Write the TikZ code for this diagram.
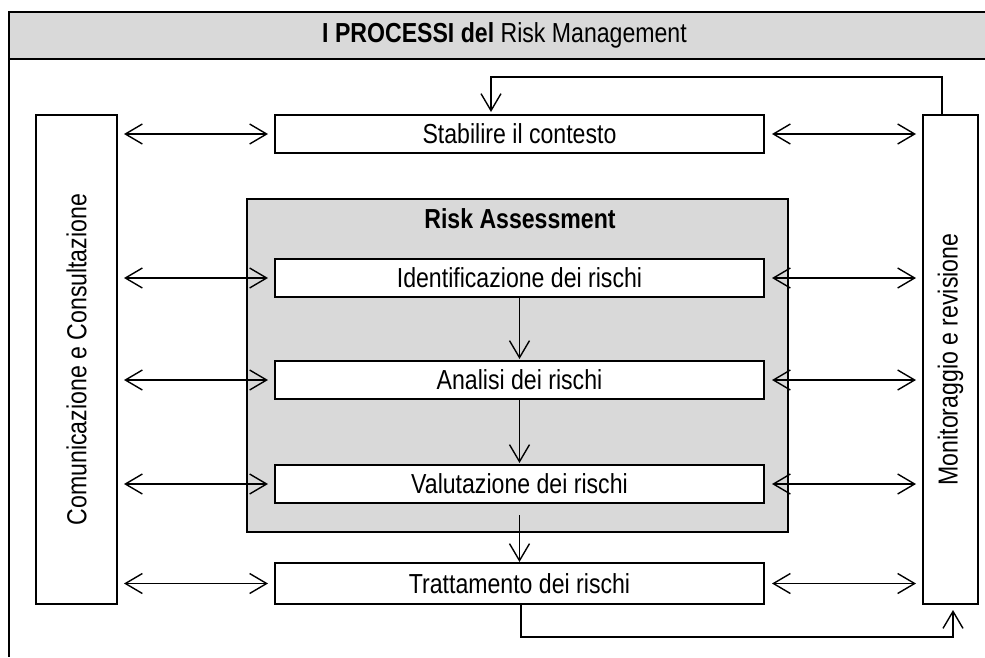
\documentclass[tikz,border=0pt]{standalone}
\usepackage{fontspec}
\setmainfont{Liberation Sans}[FakeStretch=0.84]
\usetikzlibrary{arrows.meta}
\definecolor{panelgray}{RGB}{217,217,217}
\tikzset{
  txt/.style={font=\fontsize{27.5}{29}\selectfont},
  box/.style={draw=black, line width=2pt, fill=white, inner sep=0pt, outer sep=0pt,
    minimum width=489pt, minimum height=38pt, txt},
  sidebox/.style={draw=black, line width=1.2pt, fill=white, inner sep=0pt, outer sep=0pt,
    minimum height=489pt},
  arr/.style={line width=1.4pt, -{Straight Barb[length=17pt,width=20pt,line width=1.4pt]}},
  darr/.style={line width=1.4pt, {Straight Barb[length=17pt,width=20pt,line width=1.4pt]}-{Straight Barb[length=17pt,width=20pt,line width=1.4pt]}},
}
\begin{document}
\begin{tikzpicture}[x=1pt,y=-1pt]
\useasboundingbox (0,0) rectangle (985,657);
\fill[white] (0,0) rectangle (985,657);
% header and frame
\node[draw=black, line width=2.5pt, fill=panelgray, inner sep=0pt, outer sep=0pt,
  minimum width=991pt, minimum height=47pt, txt]
  (hdr) at (504.5,35.5) {\textbf{I PROCESSI del} Risk Management};
\coordinate (frameend) at (9,657);
\draw[line width=2.5pt] (hdr.north west) -- (frameend);
% side boxes
\node[sidebox, minimum width=81pt] (cc) at (76.5,359.5) {};
\node[rotate=90, txt] (cctext) at (cc.center) {Comunicazione e Consultazione};
\node[sidebox, minimum width=55pt] (mr) at (950.5,359.5) {};
\node[rotate=90, txt] (mrtext) at (mr.center) {Monitoraggio e revisione};
% risk assessment panel
\node[draw=black, line width=2pt, fill=panelgray, inner sep=0pt, outer sep=0pt,
  minimum width=541pt, minimum height=333pt] (ra) at (517.5,365.5) {};
\node[txt, font=\bfseries\fontsize{27.5}{29}\selectfont] (ratitle) at (520,219) {Risk Assessment};
% process boxes
\node[box] (ctx) at (519.5,134) {Stabilire il contesto};
\node[box] (id) at (519.5,278) {Identificazione dei rischi};
\node[box] (an) at (519.5,380) {Analisi dei rischi};
\node[box] (va) at (519.5,484) {Valutazione dei rischi};
\node[box, minimum height=41pt] (tr) at (519.5,583.5) {Trattamento dei rischi};
% double arrows left and right
\foreach \n in {ctx,id,an,va,tr}{
  \draw[darr, shorten <=7pt, shorten >=7pt] (cc.east |- \n.west) -- (\n.west);
  \draw[darr, shorten <=8pt, shorten >=7pt] (\n.east) -- (mr.west |- \n.east);
}
% vertical flow
\draw[arr, shorten >=2pt] (id.south) -- (an.north);
\draw[arr, shorten >=2pt] (an.south) -- (va.north);
\draw[arr, shorten <=12pt, shorten >=1pt] (va.south) -- (tr.north);
% feedback loops
\draw[arr, shorten >=3pt] ([xshift=-8.5pt]mr.north) -- ++(0,-38) -| ([xshift=-28.5pt]ctx.north);
\draw[arr, shorten >=6pt] ([xshift=1.5pt]tr.south) -- ++(0,33) -| ([xshift=2.5pt]mr.south);
\end{tikzpicture}
\end{document}
